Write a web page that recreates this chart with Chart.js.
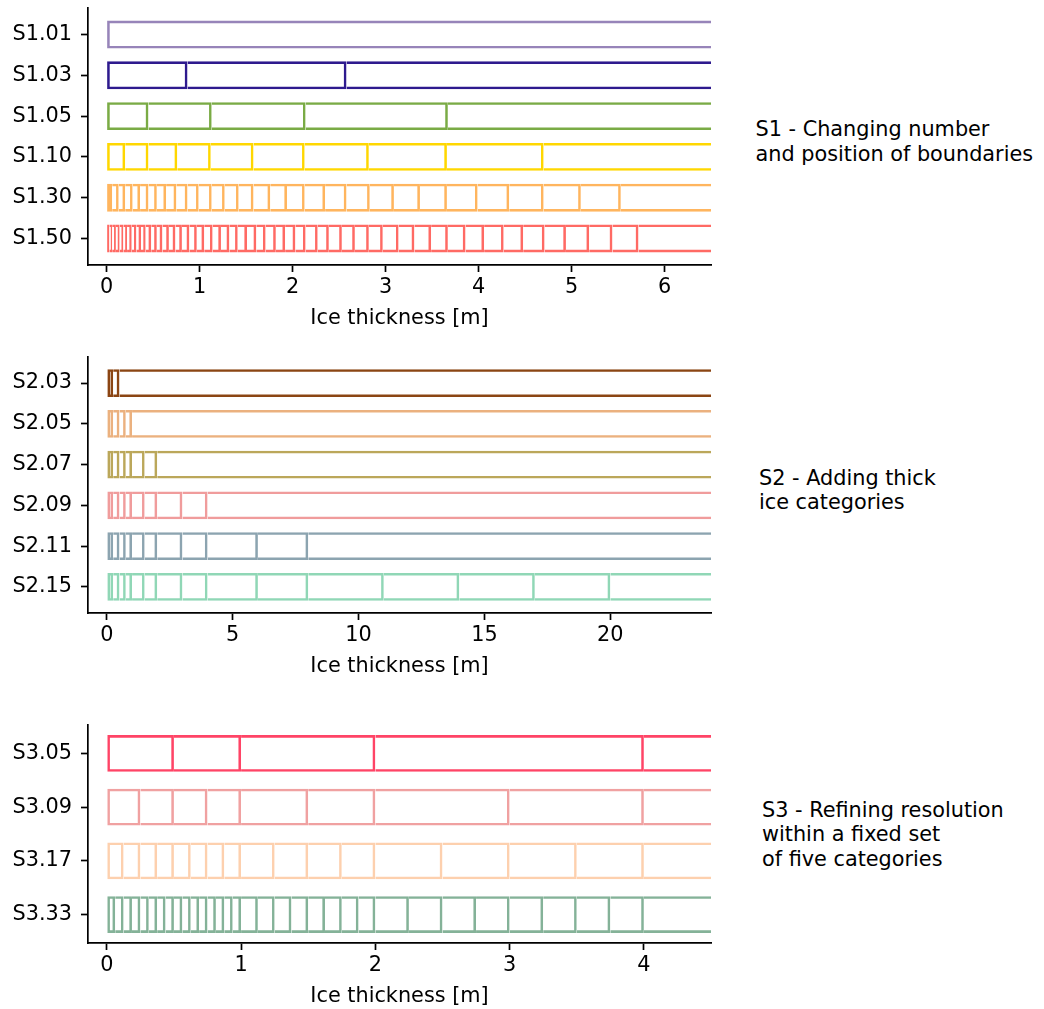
<!DOCTYPE html>
<html>
<head>
<meta charset="utf-8">
<script src="https://cdn.jsdelivr.net/npm/chart.js@4.4.1/dist/chart.umd.min.js"></script>
<style>
  html, body { margin: 0; padding: 0; background: #fff; overflow: hidden; }
  body { width: 1044px; height: 1009px; position: relative; font-family: "DejaVu Sans", sans-serif; }
  canvas { position: absolute; left: 0; }
  .note { position: absolute; font-size: 20.8px; line-height: 24.5px; color: #000; white-space: nowrap; }
</style>
</head>
<body>
<canvas id="c1" width="720" height="331" style="top:0px"></canvas>
<canvas id="c2" width="720" height="330" style="top:349px"></canvas>
<canvas id="c3" width="720" height="292" style="top:717px"></canvas>
<div class="note" style="left:755.5px;top:117.3px">S1 - Changing number<br>and position of boundaries</div>
<div class="note" style="left:759px;top:465.8px">S2 - Adding thick<br>ice categories</div>
<div class="note" style="left:762px;top:797.5px">S3 - Refining resolution<br>within a fixed set<br>of five categories</div>
<script>
// panel 1 ------------------------------------------------------------
const s1Names = ["S1.01", "S1.03", "S1.05", "S1.10", "S1.30", "S1.50"];
const s1Colors = ["#9784b9", "#2e1a8e", "#7aab45", "#ffd700", "#ffb55e", "#ff6a64"];
const S1_01 = [0];
const S1_03 = [0, 0.87, 2.58];
const S1_05 = [0, 0.45, 1.13, 2.14, 3.67];
const S1_10 = [0, 0.20, 0.45, 0.76, 1.12, 1.58, 2.13, 2.82, 3.66, 4.70];
const S1_30 = [0, 0.06, 0.13, 0.20, 0.28, 0.36, 0.45, 0.54, 0.64, 0.75, 0.87, 0.99, 1.13, 1.27, 1.42,
               1.58, 1.76, 1.94, 2.13, 2.35, 2.58, 2.83, 3.09, 3.37, 3.66, 3.99, 4.33, 4.70, 5.10, 5.53];
const S1_50 = [0, 0.03, 0.06, 0.10, 0.14, 0.18, 0.22, 0.27, 0.32, 0.37, 0.42, 0.48, 0.54, 0.60, 0.67,
               0.74, 0.81, 0.89, 0.97, 1.05, 1.14, 1.23, 1.32, 1.41, 1.51, 1.61, 1.71, 1.82, 1.92, 2.03,
               2.14, 2.27, 2.39, 2.53, 2.67, 2.82, 2.97, 3.14, 3.31, 3.49, 3.67, 3.86, 4.06, 4.27, 4.48,
               4.71, 4.94, 5.19, 5.44, 5.72];
const s1Ticks = [0, 1, 2, 3, 4, 5, 6];

// panel 2 ------------------------------------------------------------
const s2Names = ["S2.03", "S2.05", "S2.07", "S2.09", "S2.11", "S2.15"];
const s2Colors = ["#8b4513", "#ebb17f", "#bba75a", "#f09c9c", "#8ca4b0", "#90d7b6"];
const S2_03 = [0, 0.25, 0.5];
const S2_05 = [0, 0.25, 0.5, 0.75, 1];
const S2_07 = [0, 0.25, 0.5, 0.75, 1, 1.5, 2];
const S2_09 = [0, 0.25, 0.5, 0.75, 1, 1.5, 2, 3, 4];
const S2_11 = [0, 0.25, 0.5, 0.75, 1, 1.5, 2, 3, 4, 6, 8];
const S2_15 = [0, 0.25, 0.5, 0.75, 1, 1.5, 2, 3, 4, 6, 8, 11, 14, 17, 20];
const s2Ticks = [0, 5, 10, 15, 20];

// panel 3 ------------------------------------------------------------
const s3Names = ["S3.05", "S3.09", "S3.17", "S3.33"];
const s3Colors = ["#ff4466", "#f0a1a1", "#fdd0ae", "#84b298"];
const S3_05 = [0, 0.5, 1, 2, 4];
const S3_09 = [0, 0.25, 0.5, 0.75, 1, 1.5, 2, 3, 4];
const S3_17 = [0, 0.125, 0.25, 0.375, 0.5, 0.625, 0.75, 0.875, 1, 1.25, 1.5, 1.75, 2, 2.5, 3, 3.5, 4];
const S3_33 = [0, 0.0625, 0.125, 0.1875, 0.25, 0.3125, 0.375, 0.4375, 0.5, 0.5625, 0.625, 0.6875,
               0.75, 0.8125, 0.875, 0.9375, 1, 1.125, 1.25, 1.375, 1.5, 1.625, 1.75, 1.875, 2,
               2.25, 2.5, 2.75, 3, 3.25, 3.5, 3.75, 4];
const s3Ticks = [0, 1, 2, 3, 4];

Chart.defaults.font.family = "'DejaVu Sans', sans-serif";
Chart.defaults.font.size = 20.8;
Chart.defaults.color = "#000";

const LW = 2.6;

function makePanel(id, names, colors, bounds, ticks, xMin, xMax, yMin, yMax) {
  const segs = [];
  bounds.forEach((b, row) => {
    b.forEach((lo, k) => {
      const open = k + 1 === b.length;
      segs.push({ x: [lo, open ? xMax : b[k + 1]], y: row, k: k, open: open });
    });
  });

  const axisGrid = { drawOnChartArea: false, drawTicks: true, tickLength: 7, color: "#000", tickColor: "#000", tickWidth: 1.7, offset: false };
  const axisBorder = { display: true, color: "#000", width: 1.7 };

  new Chart(document.getElementById(id), {
    type: "bar",
    data: {
      datasets: [{
        data: segs,
        backgroundColor: "rgba(0,0,0,0)",
        borderColor: ctx => ctx.raw ? colors[ctx.raw.y] : colors[0],
        borderWidth: ctx => ctx.raw
          ? { top: LW, bottom: LW, left: ctx.raw.k === 0 ? LW : 0, right: ctx.raw.open ? 0 : LW }
          : LW,
        borderSkipped: false,
        inflateAmount: 0,
        barPercentage: 0.685,
        categoryPercentage: 1
      }]
    },
    options: {
      indexAxis: "y",
      responsive: false,
      animation: false,
      events: [],
      layout: { padding: { top: 8, right: 9, left: 0, bottom: 0 } },
      plugins: { legend: { display: false }, tooltip: { enabled: false } },
      scales: {
        x: {
          type: "linear", min: xMin, max: xMax,
          afterBuildTicks: s => { s.ticks = ticks.map(v => ({ value: v })); },
          afterFit: s => { s.height = 66; s.paddingLeft = 0; s.paddingRight = 0; },
          ticks: { padding: 3.5, maxRotation: 0, autoSkip: false, callback: v => String(v) },
          grid: axisGrid,
          border: axisBorder,
          title: { display: true, text: "Ice thickness [m]", padding: { top: 0, bottom: 0 } }
        },
        y: {
          type: "linear", reverse: true, min: yMin, max: yMax, offset: false,
          afterBuildTicks: s => { s.ticks = names.map((n, i) => ({ value: i })); },
          afterFit: s => { s.width = 88; s.paddingTop = 0; s.paddingBottom = 0; },
          ticks: { padding: 9, autoSkip: false, callback: v => names[v] },
          grid: axisGrid,
          border: axisBorder
        }
      }
    }
  });
}

makePanel("c1", s1Names, s1Colors, [S1_01, S1_03, S1_05, S1_10, S1_30, S1_50], s1Ticks, -0.2, 6.5, -0.65, 5.65);
makePanel("c2", s2Names, s2Colors, [S2_03, S2_05, S2_07, S2_09, S2_11, S2_15], s2Ticks, -0.75, 24, -0.64, 5.64);
makePanel("c3", s3Names, s3Colors, [S3_05, S3_09, S3_17, S3_33], s3Ticks, -0.14, 4.5, -0.53, 3.53);
</script>
</body>
</html>
